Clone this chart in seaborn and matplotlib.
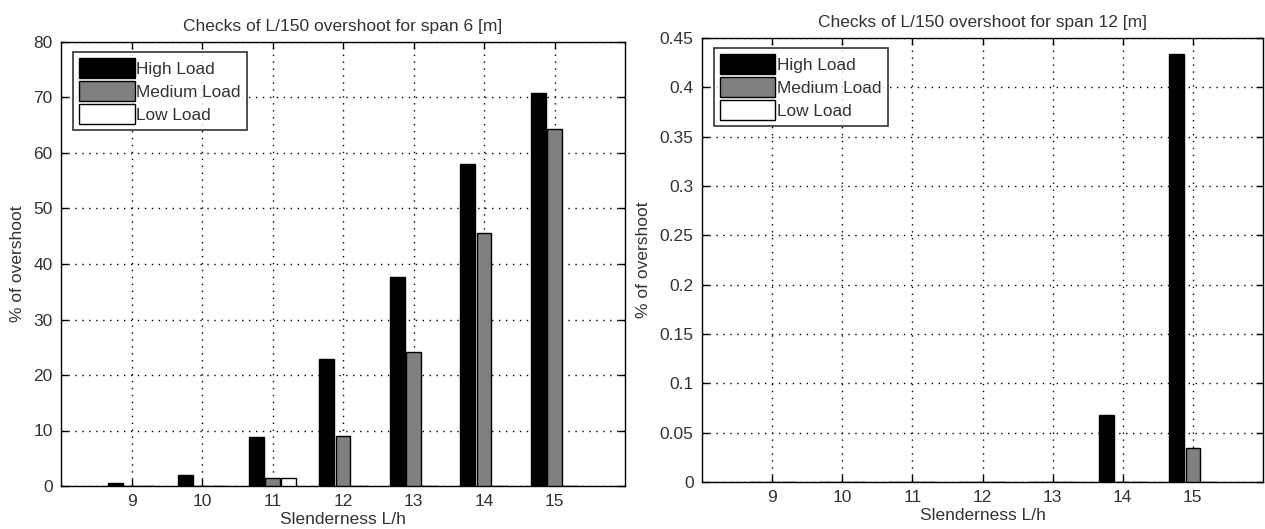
import numpy as np
import pandas as pd
import matplotlib
matplotlib.use("Agg")
import matplotlib.pyplot as plt
import seaborn as sns
from matplotlib.ticker import FuncFormatter

slenderness = [9, 10, 11, 12, 13, 14, 15]
loads = ["High Load", "Medium Load", "Low Load"]

span6_high = [0.5, 2.0, 8.8, 22.8, 37.7, 58.0, 70.9]
span6_medium = [0.0, 0.0, 1.5, 9.0, 24.1, 45.6, 64.3]
span6_low = [0.0, 0.0, 1.5, 0.0, 0.0, 0.0, 0.0]

span12_high = [0.0, 0.0, 0.0, 0.0, 0.0, 0.068, 0.434]
span12_medium = [0.0, 0.0, 0.0, 0.0, 0.0, 0.0, 0.034]
span12_low = [0.0, 0.0, 0.0, 0.0, 0.0, 0.0, 0.0]

titles = ["Checks of L/150 overshoot for span 6 [m]",
          "Checks of L/150 overshoot for span 12 [m]"]
yticks6 = [0, 10, 20, 30, 40, 50, 60, 70, 80]
yticks12 = [0, 0.05, 0.1, 0.15, 0.2, 0.25, 0.3, 0.35, 0.4, 0.45]

colors = {"High Load": "#000000", "Medium Load": "#808080", "Low Load": "#ffffff"}


def make_df(high, med, low):
    rows = []
    for name, vals in zip(loads, [high, med, low]):
        for x, v in zip(slenderness, vals):
            rows.append({"slenderness": x, "value": v, "load": name})
    return pd.DataFrame(rows)


sns.set_theme(style="white")
plt.rcParams["font.family"] = ["Liberation Sans", "DejaVu Sans"]
plt.rcParams["font.size"] = 12

fig = plt.figure(figsize=(12.65, 5.29), dpi=100)
ax1 = fig.add_axes([61 / 1265, 1 - 486 / 529, (625 - 61) / 1265, (486 - 42) / 529])
ax2 = fig.add_axes([702 / 1265, 1 - 482 / 529, (1263 - 702) / 1265, (482 - 38) / 529])

datasets = [
    (ax1, make_df(span6_high, span6_medium, span6_low), yticks6, titles[0]),
    (ax2, make_df(span12_high, span12_medium, span12_low), yticks12, titles[1]),
]

txt = "#333333"
for ax, df, yt, title in datasets:
    sns.barplot(data=df, x="slenderness", y="value", hue="load", hue_order=loads,
                palette=colors, native_scale=True, width=0.69, gap=0.1,
                edgecolor="black", linewidth=1.0, errorbar=None, ax=ax, zorder=3)
    ax.set_xlim(8, 16)
    ax.set_ylim(yt[0], yt[-1])
    ax.set_xticks(slenderness)
    ax.set_xticklabels([str(s) for s in slenderness])
    ax.set_yticks(yt)
    ax.yaxis.set_major_formatter(FuncFormatter(lambda v, p: "%g" % round(v, 4)))
    ax.grid(True, linestyle=(0, (1, 4)), color="black", linewidth=1.0, zorder=0)
    ax.set_axisbelow(True)
    ax.tick_params(direction="in", length=5, width=1, top=True, right=True,
                   bottom=True, left=True, labelsize=12.5, color="black",
                   labelcolor=txt, pad=6)
    for sp in ax.spines.values():
        sp.set_visible(True)
        sp.set_color("black")
        sp.set_linewidth(1.0)
    ax.set_title(title, fontsize=12.5, color=txt, pad=8)
    ax.set_xlabel("Slenderness L/h", fontsize=12.5, color=txt, labelpad=2)
    ax.set_ylabel("% of overshoot", fontsize=12.5, color=txt, labelpad=6)
    leg = ax.legend(loc="upper left", bbox_to_anchor=(0.022, 0.978), frameon=True,
                    fancybox=False, edgecolor="black", fontsize=12.4,
                    handlelength=3.2, handleheight=1.45, handletextpad=0.1,
                    labelspacing=0.15, borderpad=0.35, borderaxespad=0.0)
    leg.get_frame().set_linewidth(1.2)
    for t in leg.get_texts():
        t.set_color(txt)
    leg.set_zorder(5)

fig.savefig("out.png", dpi=100, facecolor="white")
